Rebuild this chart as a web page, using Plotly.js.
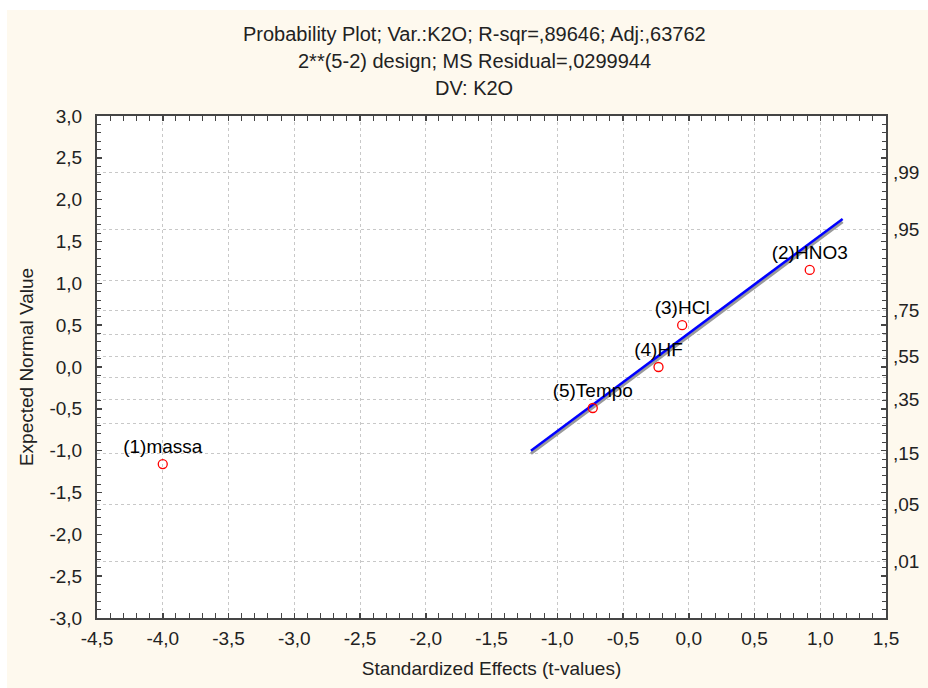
<!DOCTYPE html>
<html>
<head>
<meta charset="utf-8">
<script src="https://cdn.plot.ly/plotly-3.0.1.min.js"></script>
<style>
html,body{margin:0;padding:0;background:#ffffff;}
#chart{position:absolute;left:7px;top:10px;width:921px;height:678px;}
</style>
</head>
<body>
<div id="chart"></div>
<script>
// effect names, t-values and expected normal values
const effectLabels = ["(1)massa", "(2)HNO3", "(3)HCl", "(4)HF", "(5)Tempo"];
const tValues = [-4.00, 0.92, -0.05, -0.23, -0.73];
const expectedNormal = [-1.16, 1.16, 0.50, 0.00, -0.49];

// fitted reference line end points
const lineX = [-1.20, 1.17];
const lineY = [-1.00, 1.77];

// axis ticks
const xTicks = [-4.5, -4.0, -3.5, -3.0, -2.5, -2.0, -1.5, -1.0, -0.5, 0.0, 0.5, 1.0, 1.5];
const yTicks = [-3.0, -2.5, -2.0, -1.5, -1.0, -0.5, 0.0, 0.5, 1.0, 1.5, 2.0, 2.5, 3.0];

// right-axis probability grid (probability labels and normal quantile positions)
const probLabels = [",01", ",05", ",15", "", ",35", "", ",55", "", ",75", "", ",95", ",99"];
const probZ = [-2.326, -1.645, -1.036, -0.674, -0.385, -0.126, 0.126, 0.385, 0.674, 1.036, 1.645, 2.326];

const titleLines = [
  "Probability Plot; Var.:K2O; R-sqr=,89646; Adj:,63762",
  "2**(5-2) design; MS Residual=,0299944",
  "DV: K2O"
];

const fmt = v => v.toFixed(1).replace(".", ",");

const FONT = "Liberation Sans, Arial, sans-serif";
const FS = 19;
const TXT = "#222222";

const traces = [
  {
    x: lineX, y: lineY.map(v => v - 0.035), mode: "lines",
    line: {color: "#9a9a9a", width: 3}, hoverinfo: "skip", showlegend: false,
    xaxis: "x", yaxis: "y"
  },
  {
    x: lineX, y: lineY, mode: "lines",
    line: {color: "#0000ff", width: 2.5}, showlegend: false,
    xaxis: "x", yaxis: "y"
  },
  {
    x: tValues, y: expectedNormal, mode: "markers+text",
    text: effectLabels, textposition: "top center",
    textfont: {family: FONT, size: FS, color: "#000000"},
    marker: {symbol: "circle-open", size: 9, color: "#ff0000", line: {width: 1.3, color: "#ff0000"}},
    showlegend: false, xaxis: "x", yaxis: "y"
  },
  {
    x: [null], y: [null], mode: "markers", showlegend: false, hoverinfo: "skip",
    xaxis: "x", yaxis: "y2"
  }
];

const axisLine = "#454545";

const layout = {
  width: 921, height: 678,
  paper_bgcolor: "#fef9ee",
  plot_bgcolor: "#ffffff",
  separators: ", ",
  font: {family: FONT, size: FS, color: TXT},
  margin: {l: 90, r: 42, t: 106, b: 70},
  showlegend: false,
  xaxis: {
    range: [-4.5, 1.5], tickmode: "array", tickvals: xTicks, ticktext: xTicks.map(fmt),
    showline: true, linecolor: axisLine, linewidth: 2, mirror: "allticks",
    ticks: "inside", ticklen: 5, tickcolor: axisLine, tickwidth: 1.5,
    ticklabelstandoff: 2,
    minor: {dtick: 0.1, ticks: "inside", ticklen: 4, tickcolor: axisLine, tickwidth: 1, showgrid: false},
    showgrid: true, gridcolor: "#c8c8c8", griddash: "dot", gridwidth: 1,
    zeroline: false,
    tickfont: {family: FONT, size: FS, color: TXT},
    title: {text: "Standardized Effects (t-values)", font: {family: FONT, size: FS, color: TXT}, standoff: 14}
  },
  yaxis: {
    range: [-3, 3], tickmode: "array", tickvals: yTicks, ticktext: yTicks.map(fmt),
    showline: true, linecolor: axisLine, linewidth: 2, mirror: "allticks",
    ticks: "inside", ticklen: 5, tickcolor: axisLine, tickwidth: 1.5,
    ticklabelstandoff: 9,
    minor: {dtick: 0.1, ticks: "inside", ticklen: 4, tickcolor: axisLine, tickwidth: 1, showgrid: false},
    showgrid: false, zeroline: false,
    tickfont: {family: FONT, size: FS, color: TXT},
    title: {text: "Expected Normal Value", font: {family: FONT, size: FS, color: TXT}, standoff: 11}
  },
  yaxis2: {
    overlaying: "y", side: "right", range: [-3, 3],
    tickmode: "array", tickvals: probZ, ticktext: probLabels,
    ticks: "", showline: false, ticklabelstandoff: 6,
    showgrid: true, gridcolor: "#c8c8c8", griddash: "dot", gridwidth: 1,
    zeroline: false,
    tickfont: {family: FONT, size: FS, color: TXT}
  },
  annotations: titleLines.map((t, i) => ({
    text: t, xref: "paper", yref: "paper",
    x: 0.478, y: 1.163 - i * 0.054, xanchor: "center", yanchor: "middle",
    showarrow: false, font: {family: FONT, size: 20, color: TXT}
  }))
};

Plotly.newPlot("chart", traces, layout, {displayModeBar: false, staticPlot: true});
</script>
</body>
</html>
